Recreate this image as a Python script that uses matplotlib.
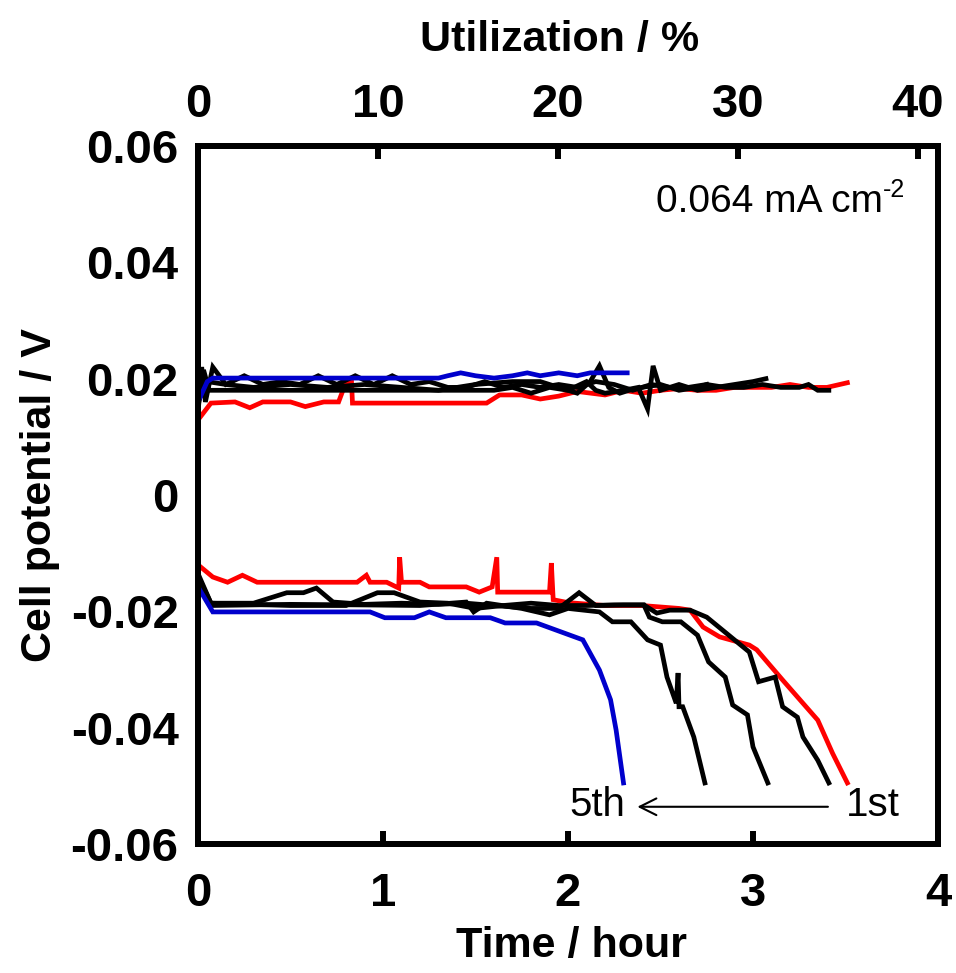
import matplotlib
matplotlib.use("Agg")
import matplotlib.pyplot as plt

plt.rcParams['font.family'] = ['Liberation Sans', 'DejaVu Sans']

# ---------------- data (time in hour, potential in V) ----------------
red_up_t = [0, 0.07, 0.2, 0.28, 0.35, 0.5, 0.58, 0.68, 0.76, 0.8, 0.83, 0.835, 1.0, 1.3, 1.56,
            1.63, 1.75, 1.85, 1.95, 2.05, 2.2, 2.3, 2.4, 2.5, 2.6, 2.7, 2.8, 2.9, 3.0, 3.1, 3.2,
            3.3, 3.4, 3.51]
red_up_v = [0.0129, 0.0158, 0.016, 0.0150, 0.016, 0.016, 0.0152, 0.016, 0.016, 0.0194, 0.0194,
            0.0158, 0.0158, 0.0158, 0.0158, 0.0172, 0.0172, 0.0165, 0.017, 0.0178, 0.0172, 0.018,
            0.0175, 0.018, 0.0183, 0.018, 0.018, 0.0185, 0.0185, 0.0185, 0.019, 0.0185, 0.0185,
            0.0193]

blue_up_t = [0, 0.05, 0.08, 1.3, 1.35, 1.42, 1.5, 1.6, 1.7, 1.78, 1.85, 1.95, 2.05, 2.12, 2.2, 2.32]
blue_up_v = [0.016, 0.0195, 0.0201, 0.0201, 0.0205, 0.021, 0.0205, 0.0201, 0.0205, 0.021,
             0.0205, 0.021, 0.0205, 0.021, 0.021, 0.021]

blk1_up_t = [0, 0.02, 0.04, 0.08, 0.15, 0.25, 0.35, 0.45, 0.55, 0.65, 0.75, 0.85, 0.95, 1.05,
             1.15, 1.25, 1.35, 1.45, 1.55, 1.65, 1.75, 1.85, 1.95, 2.05, 2.15, 2.25, 2.35, 2.45,
             2.55, 2.65, 2.75, 2.85, 2.95, 3.05, 3.15, 3.25, 3.3, 3.35, 3.41]
blk1_up_v = [0.014, 0.022, 0.016, 0.022, 0.019, 0.0205, 0.019, 0.0195, 0.019, 0.0205, 0.019,
             0.0205, 0.019, 0.0205, 0.019, 0.0195, 0.0185, 0.0185, 0.0195, 0.0185, 0.019,
             0.0185, 0.019, 0.0185, 0.0195, 0.019, 0.018, 0.019, 0.0185, 0.0185, 0.019, 0.0185,
             0.0185, 0.019, 0.0185, 0.0185, 0.019, 0.018, 0.018]

blk2_up_t = [0, 0.03, 0.06, 0.2, 0.6, 1.0, 1.3, 1.6, 1.7, 1.8, 1.9, 2.0, 2.1, 2.15, 2.2, 2.3,
             2.38, 2.43, 2.46, 2.5, 2.6, 2.7, 2.8, 2.9, 3.0, 3.07]
blk2_up_v = [0.015, 0.0215, 0.018, 0.018, 0.018, 0.018, 0.018, 0.018, 0.0185, 0.0175, 0.0185,
             0.018, 0.0195, 0.018, 0.0175, 0.018, 0.0185, 0.0148, 0.0222, 0.018, 0.019, 0.018,
             0.0185, 0.019, 0.0195, 0.020]

blk3_up_t = [0, 0.05, 0.15, 0.3, 0.5, 0.7, 0.9, 1.1, 1.3, 1.5, 1.7, 1.85, 1.95, 2.05, 2.12,
             2.17, 2.22, 2.28, 2.33, 2.4, 2.5, 2.6, 2.7, 2.75]
blk3_up_v = [0.016, 0.0195, 0.019, 0.0185, 0.019, 0.0185, 0.019, 0.0185, 0.018, 0.019, 0.0195,
             0.0195, 0.0185, 0.0175, 0.0195, 0.0222, 0.0185, 0.0175, 0.018, 0.0185, 0.019,
             0.018, 0.0185, 0.019]

red_dn_t = [0, 0.08, 0.16, 0.24, 0.32, 0.86, 0.91, 0.93, 1.02, 1.085, 1.09, 1.10, 1.2, 1.25,
            1.45, 1.52, 1.59, 1.615, 1.62, 1.63, 1.90, 1.91, 1.92, 2.0, 2.2, 2.4, 2.6, 2.66,
            2.73, 2.82, 2.98, 3.02, 3.16, 3.27, 3.35, 3.43, 3.51]
red_dn_v = [-0.012, -0.0141, -0.015, -0.0138, -0.015, -0.015, -0.0138, -0.015, -0.015, -0.016,
            -0.0107, -0.015, -0.015, -0.0158, -0.0158, -0.0167, -0.0158, -0.0107, -0.0167,
            -0.0167, -0.0167, -0.0117, -0.018, -0.0185, -0.019, -0.019, -0.0195, -0.0198,
            -0.0227, -0.0244, -0.0258, -0.0266, -0.0318, -0.0358, -0.0387, -0.0444, -0.0495]

blue_dn_t = [0, 0.08, 0.93, 1.01, 1.17, 1.25, 1.34, 1.58, 1.66, 1.83, 2.08, 2.17, 2.23, 2.26, 2.30]
blue_dn_v = [-0.0158, -0.0201, -0.0201, -0.0211, -0.0211, -0.0201, -0.0211, -0.0211, -0.022,
             -0.022, -0.0249, -0.0301, -0.0352, -0.0404, -0.0495]

blk1_dn_t = [0, 0.07, 0.3, 0.48, 0.57, 0.64, 0.73, 0.9, 1.1, 1.3, 1.45, 1.6, 1.8, 1.95, 2.06,
             2.15, 2.3, 2.41, 2.48, 2.55, 2.66, 2.75, 2.98, 3.03, 3.12, 3.16, 3.24, 3.27, 3.35,
             3.41]
blk1_dn_v = [-0.014, -0.0186, -0.0186, -0.0168, -0.0168, -0.016, -0.0184, -0.0188, -0.0186,
             -0.0188, -0.0186, -0.019, -0.0195, -0.0195, -0.0168, -0.019, -0.0189, -0.0189,
             -0.0203, -0.0198, -0.0198, -0.021, -0.027, -0.0321, -0.0313, -0.0364, -0.0382,
             -0.0416, -0.0456, -0.0495]

blk2_dn_t = [0, 0.07, 0.5, 0.8, 0.97, 1.06, 1.2, 1.35, 1.5, 1.65, 1.8, 1.95, 2.1, 2.25, 2.41,
             2.44, 2.51, 2.61, 2.70, 2.76, 2.85, 2.89, 2.97, 3.0, 3.08]
blk2_dn_v = [-0.0135, -0.0186, -0.019, -0.019, -0.0168, -0.0168, -0.0184, -0.0186, -0.0195,
             -0.019, -0.0186, -0.019, -0.019, -0.0189, -0.0189, -0.021, -0.0218, -0.0218,
             -0.0241, -0.0287, -0.0313, -0.0361, -0.0378, -0.0433, -0.0495]

blk3_dn_t = [0, 0.07, 0.5, 0.9, 1.2, 1.45, 1.49, 1.56, 1.75, 1.9, 2.0, 2.17, 2.24, 2.34, 2.43,
             2.50, 2.535, 2.585, 2.595, 2.60, 2.62, 2.68, 2.74]
blk3_dn_v = [-0.0145, -0.019, -0.0188, -0.0189, -0.019, -0.0184, -0.0201, -0.0186, -0.0195,
             -0.0206, -0.0195, -0.0201, -0.0218, -0.0218, -0.0249, -0.0258, -0.0313, -0.0358,
             -0.0306, -0.0364, -0.0364, -0.0416, -0.0495]

x_ticks = [0, 1, 2, 3, 4]
y_ticks = [-0.06, -0.04, -0.02, 0, 0.02, 0.04, 0.06]
y_ticklabels = ['-0.06', '-0.04', '-0.02', '0', '0.02', '0.04', '0.06']
top_ticks = [0, 10, 20, 30, 40]

# ---------------- figure ----------------
W, H = 956, 973
fig = plt.figure(figsize=(W/100, H/100), dpi=100)
ax = fig.add_axes([198/W, 1-844/H, 740/W, 698/H])

lw = 3.4
for t, v, c in [(red_up_t, red_up_v, 'red'), (red_dn_t, red_dn_v, 'red'),
                (blk1_up_t, blk1_up_v, 'black'), (blk1_dn_t, blk1_dn_v, 'black'),
                (blk2_up_t, blk2_up_v, 'black'), (blk2_dn_t, blk2_dn_v, 'black'),
                (blk3_up_t, blk3_up_v, 'black'), (blk3_dn_t, blk3_dn_v, 'black'),
                (blue_up_t, blue_up_v, '#0000cc'), (blue_dn_t, blue_dn_v, '#0000cc')]:
    ax.plot(t, v, color=c, lw=lw, solid_joinstyle='miter')

ax.set_xlim(0, 4)
ax.set_ylim(-0.06, 0.06)
ax.set_xticks(x_ticks)
ax.set_xticklabels([str(x) for x in x_ticks])
ax.set_yticks(y_ticks)
ax.set_yticklabels(y_ticklabels)
for s in ax.spines.values():
    s.set_linewidth(4.3)
ax.tick_params(axis='x', direction='in', length=9.5, width=4.3, pad=20, labelsize=34)
ax.tick_params(axis='y', length=0, pad=14, labelsize=34)
for lab in ax.get_xticklabels() + ax.get_yticklabels():
    lab.set_fontweight('bold')

ax2 = ax.twiny()
ax2.set_xlim(0, 40 * 740 / 720)
ax2.set_xticks(top_ticks)
ax2.set_xticklabels([str(x) for x in top_ticks])
ax2.tick_params(axis='x', direction='in', length=9.5, width=4.3, pad=14, labelsize=34)
for lab in ax2.get_xticklabels():
    lab.set_fontweight('bold')
for s in ax2.spines.values():
    s.set_linewidth(4.3)

fig.text(572/W, 1-946/H, 'Time / hour', fontsize=31, fontweight='bold',
         ha='center', va='center')
fig.text(560/W, 1-40/H, 'Utilization / %', fontsize=31, fontweight='bold',
         ha='center', va='center')
fig.text(40/W, 1-495/H, 'Cell potential / V', fontsize=31, fontweight='bold',
         ha='center', va='center', rotation=90)

ax.text(3.70, 0.0503, '0.064 mA cm', fontsize=28, ha='right', va='center')
ax.text(3.70, 0.0525, '-2', fontsize=18, ha='left', va='center')
ax.annotate('', xy=(2.36, -0.0536), xytext=(3.42, -0.0536),
            arrowprops=dict(arrowstyle='->', lw=1.5, color='black', mutation_scale=30))
ax.text(2.31, -0.0533, '5th', fontsize=29, ha='right', va='center')
ax.text(3.5, -0.0533, '1st', fontsize=29, ha='left', va='center')

fig.savefig('out.png', dpi=100)
